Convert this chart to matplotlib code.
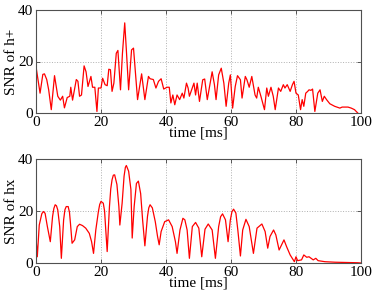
import matplotlib
matplotlib.use("Agg")
import matplotlib.pyplot as plt

# SNR of h+ (time in ms, value)
t_plus = [0, 1.25, 2.1, 2.6, 3.3, 3.9, 4.7, 5.7, 6.7, 7.5, 8.2, 8.75, 9.6, 10.4, 10.7, 11.25,
          12.4, 12.9, 13.4, 14.0, 14.8, 15.4, 16.0, 16.9, 17.4, 18.1, 18.75, 19.2, 20.0, 20.5,
          21.25, 21.9, 22.4, 22.9, 23.4, 23.96, 24.7, 25.2, 26.0, 26.6, 27.3, 27.8, 28.5, 29.4,
          30.0, 30.7, 31.25, 32.5, 33.5, 34.6, 35.1, 36.1, 36.9, 37.7, 38.5, 39.3, 40.3, 41.0,
          41.5, 42.1, 42.7, 43.4, 44.2, 45.0, 45.5, 46.3, 46.8, 47.2, 47.9, 48.6, 49.1, 49.6,
          50.3, 51.3, 51.9, 52.7, 53.4, 54.2, 54.9, 55.4, 56.2, 57.0, 57.8, 58.5, 59.3, 59.8,
          60.5, 61.3, 62.0, 62.9, 63.4, 64.4, 64.9, 65.6, 66.4, 67.4, 67.9, 68.4, 69.2, 70.3,
          71.0, 71.5, 72.3, 73.0, 73.6, 74.6, 75.3, 76.1, 76.6, 77.3, 78.2, 78.9, 79.4, 80.0,
          80.7, 81.4, 81.9, 82.4, 83.0, 83.6, 84.0, 84.6, 85.1, 85.8, 86.7, 87.4, 88.1, 88.7,
          89.4, 90.4, 91.9, 93.5, 94.2, 96.0, 97.0, 98.0, 99.0]
snr_plus = [18, 7.7, 15, 15.2, 13, 9, 1.3, 14.5, 6.5, 5, 6.5, 2, 6, 6.5, 10, 5,
            13, 12.3, 6.5, 7, 18.3, 16, 10.3, 14.2, 10, 10, 0.6, 9.7, 9.7, 13.5,
            11, 10.6, 17, 16.8, 8.4, 11.6, 23.2, 24.3, 9, 23.2, 35, 24.5, 9, 24.5,
            25.2, 14.2, 5.2, 15.2, 5.2, 14.2, 13.3, 13, 9.7, 12.3, 13.3, 9.3, 10, 10,
            3.9, 7, 3.2, 7, 5.2, 7.7, 5.8, 11.6, 9.7, 6.5, 9, 11.6, 7, 11.6,
            4.5, 12.9, 13.2, 5.2, 10.3, 16, 11, 5.2, 14.8, 17.4, 11.6, 2.6, 11.6, 14.8,
            1.9, 10.3, 14.5, 12.9, 5.8, 14.2, 12.9, 10, 14.2, 7, 5.8, 10, 6.5, 1.3,
            9.7, 6.5, 10, 6.5, 1.3, 9.7, 8.4, 11, 9.7, 11, 8.4, 11, 12.3, 7.7,
            7, 1.3, 5.2, 2.6, 7.7, 8.4, 9, 8.8, 9.3, 0.6, 7.7, 9, 4.5, 6.5,
            5.2, 3.6, 2.6, 1.9, 2.3, 2.3, 1.9, 1.3, 0]

# SNR of hx (time in ms, value)
t_x = [0, 0.4, 1.0, 1.8, 2.3, 2.8, 3.5, 4.4, 5.1, 5.5, 5.9, 6.3, 6.7, 7.3, 7.8, 8.5, 8.9, 9.3, 9.9, 10.3, 10.6,
       11.1, 11.9, 12.7, 13.4, 14.3, 15.3, 16.4, 17.1, 17.7, 18.4, 19.2, 19.6, 20.0, 20.7, 21.1, 21.4,
       21.9, 22.6, 23.0, 23.4, 23.8, 24.2, 24.9, 25.5, 25.8, 26.5, 27.1, 27.5, 27.8, 28.5, 29.2, 29.6, 30.2,
       30.9, 31.5, 32.2, 32.8, 33.5, 34.3, 34.7, 35.1, 35.8, 36.7, 37.4, 37.9, 38.5, 39.6, 40.8,
       41.9, 42.9, 43.4, 44.3, 45.2, 45.8, 46.5, 47.2, 48.1, 49.1, 50.1, 51.0, 52.0, 53.0,
       54.2, 55.2, 56.2, 56.8, 57.4, 58.3, 59.1, 59.8, 60.3, 60.8, 61.5, 62.1, 62.9, 63.6, 64.6, 65.6,
       66.9, 68.0, 69.5, 70.5, 71.3, 72.0, 73.1, 73.8, 74.8, 76.3, 77.1, 78.2, 79.5, 80.0,
       80.5, 81.7, 82.4, 83.3, 84.0, 85.3, 86.1, 86.8, 88.9, 92.0, 99.0, 100.0]
snr_x = [10, 2.4, 14.6, 19, 19.8, 19.1, 14, 8.2, 17.9, 21, 22.4, 22, 20.4, 14, 1.8, 16.6, 20.5, 21.7, 21.7, 19.5, 15.3,
         7.6, 8.9, 14, 14.9, 14.4, 13.4, 11.4, 8.2, 3.7, 12.7, 19.8, 22.5, 23.7, 23, 20, 14,
         4.4, 21.7, 28.5, 32, 33.8, 33.9, 30.2, 21.7, 14.6, 23, 33.4, 36.8, 37.5, 35.3, 28.3, 9.6, 21.7,
         30.6, 31.5, 26.7, 16.6, 6.6, 17.9, 21.2, 22.4, 21.2, 15.9, 10.2, 7, 12.1, 15.9, 16.6,
         14, 8.2, 3.7, 12.7, 17.2, 16.6, 12.7, 1.8, 14, 15.6, 13.4, 2.4, 13.0, 15,
         12.7, 1.8, 14, 17.8, 18.9, 16.6, 8.2, 16.6, 19.8, 20.7, 19.2, 12.7, 2.7, 12.7, 16.8, 14,
         3.7, 13.4, 15, 12.1, 5.7, 10.2, 12.7, 10.8, 5, 8.9, 6.3, 3.1, 0.5, 2.4,
         0.9, 1.2, 3.1, 2.2, 2.4, 1.2, 1.8, 0.9, 0.5, 0.3, 0.1, 0.0]

xticks = [0, 20, 40, 60, 80, 100]
yticks = [0, 20, 40]

plt.rcParams['font.family'] = ['Liberation Serif', 'DejaVu Serif']
plt.rcParams['font.size'] = 11

fig = plt.figure(figsize=(3.74, 2.95), dpi=100)
ax1 = fig.add_axes([36/374, 1-113/295, 325/374, 103/295])
ax2 = fig.add_axes([36/374, 1-263/295, 325/374, 104/295])

for ax, t, v, lab in [(ax1, t_plus, snr_plus, 'SNR of h+'), (ax2, t_x, snr_x, 'SNR of hx')]:
    ax.plot(t, v, color='#ff0000', lw=0.9)
    ax.set_xlim(0, 100)
    ax.set_ylim(0, 40)
    ax.set_xticks(xticks)
    ax.set_yticks(yticks)
    ax.grid(True, color='#b0b0b0', linestyle=':', linewidth=0.7)
    ax.tick_params(direction='in', top=True, right=True, length=3, width=0.6,
                   colors='#404040', labelcolor='black', pad=2)
    for s in ax.spines.values():
        s.set_color('#505050')
        s.set_linewidth(0.8)
    ax.set_xlabel('time [ms]', labelpad=-1.5)
    ax.set_ylabel(lab, labelpad=0)

fig.savefig('out.png', dpi=100)
